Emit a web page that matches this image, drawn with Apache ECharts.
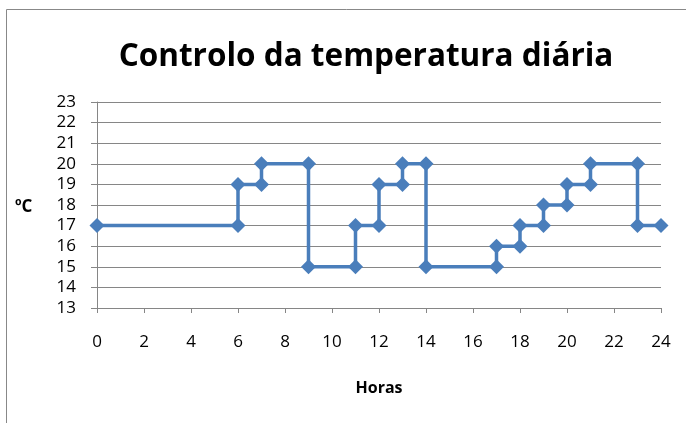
<!DOCTYPE html>
<html><head><meta charset="utf-8">
<script src="https://cdn.jsdelivr.net/npm/echarts@6/dist/echarts.min.js"></script>
<style>html,body{margin:0;padding:0;background:#fff}#c{width:686px;height:423px}</style>
</head><body><div id="c"></div>
<script>
const titleText = "Controlo da temperatura diária";
const xName = "Horas";
const yName = "ºC";
const hours = [0, 6, 6, 7, 7, 9, 9, 11, 11, 12, 12, 13, 13, 14, 14, 17, 17, 18, 18, 19, 19, 20, 20, 21, 21, 23, 23, 24];
const temps = [17, 17, 19, 19, 20, 20, 15, 15, 17, 17, 19, 19, 20, 20, 15, 15, 16, 16, 17, 17, 18, 18, 19, 19, 20, 20, 17, 17];

const chart = echarts.init(document.getElementById('c'), null, {renderer: 'canvas'});
const font = 'Open Sans, Liberation Sans, sans-serif';
chart.setOption({
  animation: false,
  title: {
    text: titleText, left: 361, top: 36, textAlign: 'center',
    textStyle: {fontFamily: font, fontWeight: 'bold', fontSize: 31.5, color: '#000'}
  },
  graphic: [{
    type: 'rect', shape: {x: 6.5, y: 9.5, width: 700, height: 430},
    style: {fill: 'none', stroke: '#888', lineWidth: 1}, silent: true
  }, {
    type: 'text', left: 15, top: 199,
    style: {text: yName, font: 'bold 17px ' + font, fill: '#000'}
  }],
  grid: {left: 97, right: 25, top: 102, bottom: 115},
  xAxis: {
    type: 'value', min: 0, max: 24, interval: 2,
    name: xName, nameLocation: 'middle', nameGap: 72,
    nameTextStyle: {fontFamily: font, fontWeight: 'bold', fontSize: 16, color: '#000'},
    axisLine: {show: true, onZero: false, lineStyle: {color: '#868686', width: 1}},
    axisTick: {show: true, inside: false, length: 5, lineStyle: {color: '#868686'}},
    axisLabel: {fontFamily: font, fontSize: 17, color: '#000', margin: 26},
    splitLine: {show: false}
  },
  yAxis: {
    type: 'value', min: 13, max: 23, interval: 1,
    axisLine: {show: true, lineStyle: {color: '#868686', width: 1}},
    axisTick: {show: true, inside: false, length: 6, lineStyle: {color: '#868686'}},
    axisLabel: {fontFamily: font, fontSize: 17, color: '#000', margin: 21},
    splitLine: {show: true, lineStyle: {color: '#868686', width: 1}}
  },
  series: [{
    type: 'line',
    data: hours.map((h, i) => [h, temps[i]]),
    symbol: 'diamond', symbolSize: 15,
    lineStyle: {color: '#4a7ebb', width: 3.5},
    itemStyle: {color: '#4a7ebb'},
    clip: false
  }]
});
</script></body></html>
